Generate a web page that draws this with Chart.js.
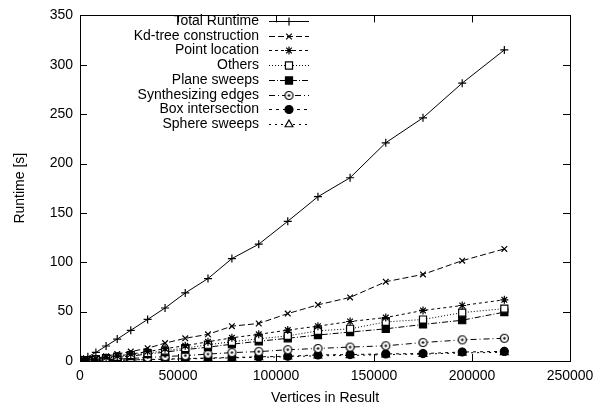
<!doctype html>
<html>
<head>
    <title>Runtime vs vertices</title>
    <script src="https://cdn.jsdelivr.net/npm/chart.js@4/dist/chart.umd.min.js"></script>
    <style>
        body { margin: 0; background: #fff; }
        * { font-family: "Liberation Sans", Arial, Helvetica, sans-serif; }
    </style>
</head>
<body>
    <canvas id="myChart" width="608" height="411"></canvas>
    <script>
    // values
    var vertices = [600, 1800, 4000, 8100, 13300, 19000, 25900, 34500, 43400, 53700,
                    65300, 77500, 91200, 106000, 121400, 137800, 156000, 175000, 195000, 216500];
    var totalRuntime = [0.6, 1.8, 4.2, 8.7, 15.2, 22.2, 31.1, 42.1, 53.7, 68.9,
                        83.5, 103.7, 118.3, 141.5, 166.4, 185.6, 221, 246.3, 281.4, 315];
    var kdTree = [0.2, 0.6, 1.3, 2.8, 4.8, 7, 9.5, 13, 18.1, 23,
                  27, 35.3, 38, 48, 56.9, 64.4, 80.3, 87.7, 101.6, 113.5];
    var pointLocation = [0.15, 0.45, 1, 2, 3.5, 5, 7, 9.5, 12.5, 15.5,
                         19.5, 23.5, 27, 31.3, 35.3, 40, 44, 51.2, 56.2, 62];
    var others = [0.13, 0.4, 0.9, 1.8, 3, 4.3, 6, 8, 10.5, 13,
                  16.5, 19.5, 22.5, 25.4, 30.6, 32.6, 39.6, 42, 49, 53];
    var planeSweeps = [0.1, 0.3, 0.7, 1.5, 2.6, 3.7, 5, 7, 9, 11.5,
                       14, 17, 20, 23, 26.3, 29.3, 32.6, 37, 41.3, 49.5];
    var synthEdges = [0.06, 0.18, 0.4, 0.8, 1.3, 1.9, 2.6, 3.5, 4.5, 5.5,
                      7, 8.5, 9.5, 11.4, 12.7, 14.1, 15.4, 18.7, 21.4, 23];
    var boxIntersection = [0.03, 0.08, 0.17, 0.35, 0.55, 0.8, 1.1, 1.5, 1.9, 2.4,
                           3, 3.6, 4.2, 4.8, 6.2, 6.5, 7.2, 7.5, 9.1, 9.7];
    var sphereSweeps = [0.02, 0.07, 0.15, 0.3, 0.5, 0.7, 1, 1.3, 1.7, 2.1,
                        2.6, 3.2, 3.7, 4.3, 5.3, 5.6, 6.5, 7, 8.2, 8.8];

    var xTicks = [0, 50000, 100000, 150000, 200000, 250000];
    var yTicks = [0, 50, 100, 150, 200, 250, 300, 350];

    function pts(ys) {
        return ys.map(function(y, i) { return { x: vertices[i], y: y }; });
    }

    // open circle with a dot in the middle (gnuplot pt 6-ish)
    var dotCircle = document.createElement('canvas');
    dotCircle.width = 11; dotCircle.height = 11;
    (function() {
        var g = dotCircle.getContext('2d');
        g.fillStyle = '#fff';
        g.strokeStyle = '#000';
        g.lineWidth = 1.2;
        g.beginPath(); g.arc(5.5, 5.5, 4, 0, Math.PI * 2); g.fill(); g.stroke();
        g.fillStyle = '#000';
        g.beginPath(); g.arc(5.5, 5.5, 1.2, 0, Math.PI * 2); g.fill();
    })();

    function series(label, ys, dash, style, fill, radius) {
        return {
            label: label,
            data: pts(ys),
            showLine: true,
            borderColor: '#000',
            borderWidth: 1,
            borderDash: dash,
            pointStyle: style,
            pointRadius: radius,
            pointBorderWidth: 1.2,
            pointBorderColor: '#000',
            pointBackgroundColor: fill
        };
    }

    var datasets = [
        series('Total Runtime', totalRuntime, [], 'cross', '#000', 4),
        series('Kd-tree construction', kdTree, [6, 3], 'crossRot', '#000', 4),
        series('Point location', pointLocation, [3, 3], 'star', '#000', 4),
        series('Others', others, [1, 2], 'rect', '#fff', 5),
        series('Plane sweeps', planeSweeps, [6, 2, 1, 2], 'rect', '#000', 5),
        series('Synthesizing edges', synthEdges, [6, 3, 1, 3], dotCircle, '#fff', 4),
        series('Box intersection', boxIntersection, [3, 4], 'circle', '#000', 4),
        series('Sphere sweeps', sphereSweeps, [2, 4], 'triangle', '#fff', 4.5)
    ];

    var FONT = { family: '"Liberation Sans", Arial, sans-serif', size: 14 };

    // gnuplot style frame: box, inward ticks on all four sides, legend in the top left
    var frame = {
        id: 'frame',
        beforeDraw: function(chart) {
            var c = chart.ctx;
            c.save();
            c.fillStyle = '#fff';
            c.fillRect(0, 0, chart.width, chart.height);
            c.restore();
        },
        afterDraw: function(chart) {
            var c = chart.ctx, a = chart.chartArea;
            var xs = chart.scales.x, ys = chart.scales.y;
            c.save();
            c.strokeStyle = '#000';
            c.lineWidth = 1;
            c.setLineDash([]);
            c.beginPath();
            xTicks.forEach(function(v) {
                var px = Math.round(xs.getPixelForValue(v)) + 0.5;
                c.moveTo(px, a.bottom); c.lineTo(px, a.bottom - 7);
                c.moveTo(px, a.top); c.lineTo(px, a.top + 7);
            });
            yTicks.forEach(function(v) {
                var py = Math.round(ys.getPixelForValue(v)) + 0.5;
                c.moveTo(a.left, py); c.lineTo(a.left + 7, py);
                c.moveTo(a.right, py); c.lineTo(a.right - 7, py);
            });
            c.stroke();
            c.strokeRect(Math.round(a.left) + 0.5, Math.round(a.top) + 0.5,
                         Math.round(a.right - a.left), Math.round(a.bottom - a.top));

            // legend
            c.font = '14px "Liberation Sans", Arial, sans-serif';
            c.textAlign = 'right';
            c.textBaseline = 'middle';
            c.fillStyle = '#000';
            chart.data.datasets.forEach(function(ds, i) {
                var y = Math.round(21 + i * 14.7) + 0.5;
                c.fillText(ds.label, 259, y);
                c.lineWidth = 1;
                c.setLineDash(ds.borderDash);
                c.beginPath();
                c.moveTo(269, y); c.lineTo(309, y);
                c.stroke();
                c.setLineDash([]);
                c.fillStyle = ds.pointBackgroundColor;
                c.lineWidth = ds.pointBorderWidth;
                Chart.helpers.drawPoint(c, {
                    pointStyle: ds.pointStyle, radius: ds.pointRadius,
                    rotation: 0, borderWidth: ds.pointBorderWidth
                }, 289, y);
                c.fillStyle = '#000';
            });
            c.restore();
        }
    };

    var ctx = document.getElementById('myChart').getContext('2d');
    new Chart(ctx, {
        type: 'scatter',
        data: { datasets: datasets },
        options: {
            responsive: false,
            animation: false,
            layout: { padding: { top: 9, right: 38, left: 0, bottom: 0 } },
            plugins: { legend: { display: false }, tooltip: { enabled: false } },
            scales: {
                x: {
                    type: 'linear', min: 0, max: 250000,
                    afterBuildTicks: function(s) { s.ticks = xTicks.map(function(v) { return { value: v }; }); },
                    afterFit: function(s) { s.height = 50; },
                    grid: { display: false, drawTicks: false },
                    border: { display: false },
                    ticks: { color: '#000', font: FONT, padding: 7, maxRotation: 0,
                             callback: function(v) { return String(v); } },
                    title: { display: true, text: 'Vertices in Result', color: '#000', font: FONT,
                             padding: { top: 0, bottom: 4 } }
                },
                y: {
                    type: 'linear', min: 0, max: 350,
                    afterBuildTicks: function(s) { s.ticks = yTicks.map(function(v) { return { value: v }; }); },
                    afterFit: function(s) { s.width = 80; },
                    grid: { display: false, drawTicks: false },
                    border: { display: false },
                    ticks: { color: '#000', font: FONT, padding: 7,
                             callback: function(v) { return String(v); } },
                    title: { display: true, text: 'Runtime [s]', color: '#000', font: FONT,
                             padding: { top: 12, bottom: 0 } }
                }
            }
        },
        plugins: [frame]
    });
    </script>
</body>
</html>
